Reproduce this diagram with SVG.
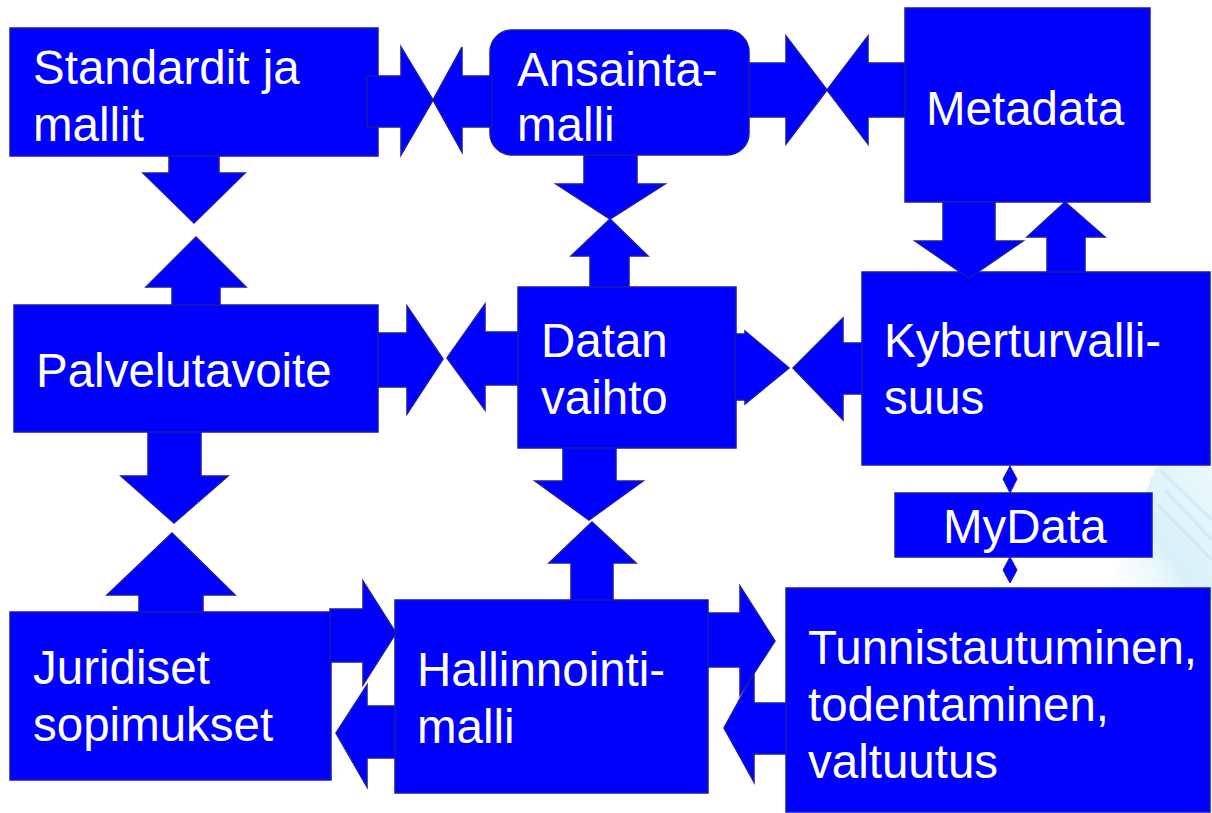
<svg xmlns="http://www.w3.org/2000/svg" width="1212" height="813" viewBox="0 0 1212 813">
<defs>
<linearGradient id="bg" x1="0" y1="1" x2="1" y2="0">
<stop offset="0" stop-color="#ffffff" stop-opacity="0"/>
<stop offset="0.45" stop-color="#d8f1f9"/>
<stop offset="1" stop-color="#eef9fc"/>
</linearGradient>
</defs>
<style>
.box{fill:#0000ff;stroke:#1a1aa8;stroke-width:1.5}
.arr{fill:#0000ff;stroke:#1a1aa8;stroke-width:1.5;stroke-linejoin:miter}
.dia{fill:#0000ff;stroke:#1a1aa8;stroke-width:1}
.t{font-family:"Liberation Sans",Arial,sans-serif;font-size:47.5px;fill:#ffffff}
.st{stroke:#c6e9f5;stroke-width:3;opacity:0.7}
</style>
<rect width="1212" height="813" fill="#ffffff"/>
<polygon points="1155,468 1212,450 1212,600 1105,600" fill="url(#bg)"/>
<g>
<line class="st" x1="1160" y1="470" x2="1212" y2="520"/>
<line class="st" x1="1165" y1="490" x2="1212" y2="540"/>
<line class="st" x1="1158" y1="505" x2="1212" y2="560"/>
</g>
<g id="n-standardit"><rect class="box" x="10" y="28" width="368" height="128"/><text class="t" x="33" y="84">Standardit ja</text><text class="t" x="33" y="141">mallit</text></g>
<g id="n-ansainta"><rect class="box" x="490" y="30" width="259" height="125" rx="22"/><text class="t" x="517" y="86">Ansainta-</text><text class="t" x="517" y="141">malli</text></g>
<g id="n-metadata"><rect class="box" x="905" y="8" width="245" height="194"/><text class="t" x="926" y="125">Metadata</text></g>
<g id="n-palvelu"><rect class="box" x="14" y="305" width="364" height="127"/><text class="t" x="36" y="387">Palvelutavoite</text></g>
<g id="n-datan"><rect class="box" x="518" y="287" width="218" height="161"/><text class="t" x="541" y="357">Datan</text><text class="t" x="541" y="414">vaihto</text></g>
<g id="n-kyber"><rect class="box" x="862" y="272" width="348" height="193"/><text class="t" x="884" y="357">Kyberturvalli-</text><text class="t" x="884" y="414">suus</text></g>
<g id="n-mydata"><rect class="box" x="895" y="493" width="257" height="64"/><text class="t" x="943" y="543">MyData</text></g>
<g id="n-juridiset"><rect class="box" x="10" y="612" width="321" height="168"/><text class="t" x="33" y="684">Juridiset</text><text class="t" x="33" y="741">sopimukset</text></g>
<g id="n-hallinnointi"><rect class="box" x="395" y="600" width="313" height="193"/><text class="t" x="417" y="686">Hallinnointi-</text><text class="t" x="417" y="743">malli</text></g>
<g id="n-tunnist"><rect class="box" x="786" y="588" width="424" height="224"/><text class="t" x="808" y="664">Tunnistautuminen,</text><text class="t" x="808" y="721">todentaminen,</text><text class="t" x="808" y="778">valtuutus</text></g>
<g id="connectors">
<polygon class="arr" points="367,76 401,76 401,47 433,100 401,155 401,127 367,127"/>
<polygon class="arr" points="492,76 462,76 462,47 433,100 462,152 462,127 492,127"/>
<polygon class="arr" points="749,63 786,63 786,36 827,90 786,144 786,117 749,117"/>
<polygon class="arr" points="905,63 868,63 868,36 827,90 868,144 868,117 905,117"/>
<polygon class="arr" points="169,156 219,156 219,173 245,173 194,223 143,173 169,173"/>
<polygon class="arr" points="172,305 172,287 146,287 196,237 246,287 220,287 220,305"/>
<polygon class="arr" points="584,155 637,155 637,184 665,184 610,219 556,184 584,184"/>
<polygon class="arr" points="590,287 590,256 571,256 610,219 648,256 629,256 629,287"/>
<polygon class="arr" points="943,202 995,202 995,241 1023,241 969,278 915,241 943,241"/>
<polygon class="arr" points="1047,272 1047,237 1027,237 1065,202 1105,237 1085,237 1085,272"/>
<polygon class="arr" points="378,333 407,333 407,306 443,359 407,414 407,387 378,387"/>
<polygon class="arr" points="518,332 485,332 485,304 447,358 485,410 485,385 518,385"/>
<polygon class="arr" points="735,334 745,334 745,331 789,368 745,404 745,400 735,400"/>
<polygon class="arr" points="862,343 843,343 843,318 793,368 843,420 843,394 862,394"/>
<polygon class="arr" points="148,432 201,432 201,476 228,476 174,523 121,476 148,476"/>
<polygon class="arr" points="139,612 139,595 107,595 172,533 235,595 203,595 203,612"/>
<polygon class="arr" points="563,448 616,448 616,481 643,481 589,520 535,481 563,481"/>
<polygon class="arr" points="571,600 571,563 549,563 592,522 636,563 613,563 613,600"/>
<polygon class="arr" points="330,609 363,609 363,581 396,633 363,685 363,662 330,662"/>
<polygon class="arr" points="395,706 367,706 367,685 336,733 367,787 367,758 395,758"/>
<polygon class="arr" points="708,613 740,613 740,586 775,641 740,695 740,667 708,667"/>
<polygon class="arr" points="786,703 754,703 754,673 724,728 754,782 754,754 786,754"/>
<polygon class="dia" points="1010,466 1017,479 1010,493 1003,479"/>
<polygon class="dia" points="1010,557 1017,570 1010,583 1003,570"/>
</g>
</svg>
